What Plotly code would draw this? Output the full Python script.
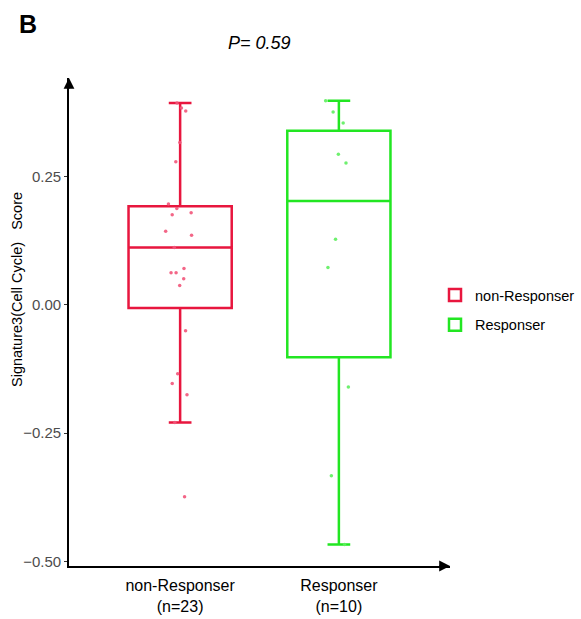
import numpy as np
import plotly.graph_objects as go

groups = ["non-Responser", "Responser"]
tick_labels = ["non-Responser<br>(n=23)", "Responser<br>(n=10)"]

non_responser = [0.394, 0.384, 0.378, 0.317, 0.279, 0.197, 0.188, 0.180, 0.176,
                 0.144, 0.136, 0.112, 0.071, 0.063, 0.063, 0.051, 0.038, -0.050,
                 -0.134, -0.153, -0.175, -0.229, -0.374]
responser = [0.398, 0.376, 0.355, 0.294, 0.277, 0.128, 0.073, -0.160, -0.333, -0.467]

line_colors = ["#E8163E", "#22E622"]
point_colors = ["#F2557A", "#5EEE5E"]

y_ticks = [-0.50, -0.25, 0.00, 0.25]
y_title = "Signature3(Cell Cycle)   Score"

FONT = "Liberation Sans, Arial, sans-serif"

W, H = 581, 619
ML, MR, MT, MB = 69, 131, 78, 53
PW, PH = W - ML - MR, H - MT - MB


def px_x(px):
    return (px - ML) / PW


def px_y(py):
    return (H - MB - py) / PH


fig = go.Figure()

for name, label, vals, lc, pc in zip(groups, tick_labels, [non_responser, responser],
                                     line_colors, point_colors):
    v = np.array(vals)
    q1, med, q3 = np.percentile(v, [25, 50, 75])
    iqr = q3 - q1
    lf = v[v >= q1 - 1.5 * iqr].min()
    uf = v[v <= q3 + 1.5 * iqr].max()
    fig.add_trace(go.Box(
        x=[label], q1=[q1], median=[med], q3=[q3], lowerfence=[lf], upperfence=[uf],
        name=name, legendgroup=name, boxpoints=False, width=0.65, whiskerwidth=0.22,
        line=dict(color=lc, width=2.5), fillcolor="rgba(255,255,255,0)",
        showlegend=True,
    ))
    fig.add_trace(go.Box(
        x=[label] * len(vals), y=vals, name=name, legendgroup=name,
        boxpoints="all", jitter=0.35, pointpos=0, width=0.65,
        line=dict(color="rgba(0,0,0,0)", width=0), fillcolor="rgba(0,0,0,0)",
        marker=dict(color=pc, size=3.5, opacity=0.9), showlegend=False,
    ))

fig.update_layout(
    width=W, height=H,
    margin=dict(l=ML, r=MR, t=MT, b=MB, autoexpand=False),
    paper_bgcolor="white", plot_bgcolor="white",
    boxmode="overlay",
    font=dict(family=FONT, color="black"),
    xaxis=dict(
        type="category", range=[-0.70, 1.70],
        tickvals=tick_labels, ticktext=tick_labels,
        showline=True, linecolor="black", linewidth=1.8,
        ticks="", showgrid=False, zeroline=False,
        tickfont=dict(size=16, color="black"),
        ticklabelstandoff=4,
        automargin=False,
    ),
    yaxis=dict(
        range=[-0.5088, 0.4425],
        tickvals=y_ticks, tickformat=".2f",
        showline=True, linecolor="black", linewidth=1.8,
        ticks="outside", ticklen=3, tickwidth=1, tickcolor="#333333",
        showgrid=False, zeroline=False,
        tickfont=dict(size=15, color="#4D4D4D"),
        automargin=False,
    ),
    legend=dict(
        x=435 / W, xref="container", xanchor="left",
        y=1 - 310 / H, yref="container", yanchor="middle",
        font=dict(size=14.5, color="black"), bgcolor="rgba(0,0,0,0)",
        tracegroupgap=8,
    ),
    showlegend=True,
)

# axis arrowheads
fig.add_annotation(xref="paper", yref="paper", x=0, y=1.0, ax=0, ay=12,
                   showarrow=True, arrowhead=2,
                   arrowsize=1.2, arrowwidth=1.8, arrowcolor="black", text="")
fig.add_annotation(xref="paper", yref="paper", x=1.0, y=0, ax=-12, ay=0,
                   showarrow=True, arrowhead=2,
                   arrowsize=1.2, arrowwidth=1.8, arrowcolor="black", text="")

# y-axis title
fig.add_annotation(xref="paper", yref="paper", x=px_x(17), y=px_y(290),
                   text=y_title, textangle=-90, showarrow=False,
                   font=dict(size=14.5, color="black"),
                   xanchor="center", yanchor="middle")

# title and panel letter
fig.add_annotation(xref="paper", yref="paper", x=0.5, y=px_y(43),
                   text="<i>P= 0.59</i>", showarrow=False, font=dict(size=18, color="black"),
                   yanchor="middle", xanchor="center")
fig.add_annotation(xref="paper", yref="paper", x=px_x(17), y=px_y(24),
                   text="<b>B</b>", showarrow=False, font=dict(size=25, color="black"),
                   xanchor="left", yanchor="middle")

fig.write_html("out.html", config={"displayModeBar": False},
               post_script="document.body.style.margin='0px';")
